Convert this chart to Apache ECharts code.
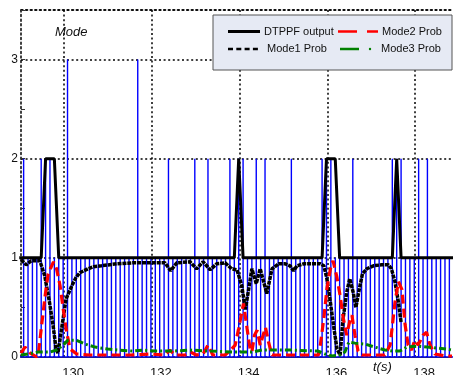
<!DOCTYPE html>
<html><head><meta charset="utf-8">
<script src="https://cdn.jsdelivr.net/npm/echarts@6/dist/echarts.min.js"></script>
<style>html,body{margin:0;padding:0;background:#fff}#c{width:453px;height:375px}</style>
</head><body><div id="c"></div>
<script>
// x ticks and y ticks
const xTickLabels = [130, 132, 134, 136, 138];
const yTickLabels = [0, 1, 2, 3];

// sampled signals (0.1 s sampling)
const sampleStart = 128.98, sampleStep = 0.1;
const trueMode = [
  1,2,1,1,1,2,2,2,1,1,
  1,3,1,1,1,1,1,1,1,1,
  1,1,1,1,1,1,1,3,1,1,
  1,1,1,1,2,1,1,1,1,1,
  2,1,1,2,1,1,1,1,2,1,
  2,2,1,1,2,1,2,1,1,1,
  1,1,2,1,1,1,1,1,1,2,
  2,2,1,1,1,1,2,1,1,1,
  1,1,1,1,1,2,2,2,1,1,
  1,2,1,2,1,1,1,1,1,1
];
const dtppfOutput = [
  1,1,1,1,1,1,2,2,2,1,
  1,1,1,1,1,1,1,1,1,1,
  1,1,1,1,1,1,1,1,1,1,
  1,1,1,1,1,1,1,1,1,1,
  1,1,1,1,1,1,1,1,1,1,
  2,1,1,1,1,1,1,1,1,1,
  1,1,1,1,1,1,1,1,1,1,
  2,2,2,1,1,1,1,1,1,1,
  1,1,1,1,1,1,2,1,1,1,
  1,1,1,1,1,1,1,1,1,1
];

// Mode probabilities
const mode1T = [129.02,129.14,129.25,129.45,129.56,129.67,129.75,129.82,129.86,129.90,129.98,130.05,130.18,130.27,130.36,130.55,130.67,130.85,131.20,131.57,131.96,132.30,132.43,132.57,132.87,133.02,133.17,133.33,133.48,133.67,133.82,133.94,134.05,134.13,134.21,134.28,134.38,134.47,134.62,134.74,134.89,135.04,135.15,135.23,135.31,135.46,135.84,135.92,135.99,136.07,136.14,136.22,136.29,136.36,136.44,136.51,136.59,136.65,136.73,136.80,136.90,137.05,137.24,137.39,137.46,137.54,137.62,137.68];
const mode1P = [0.98,0.93,0.97,0.97,0.82,0.55,0.32,0.08,0.04,0.15,0.39,0.59,0.72,0.80,0.85,0.89,0.91,0.92,0.94,0.95,0.95,0.95,0.87,0.95,0.96,0.89,0.96,0.88,0.94,0.95,0.89,0.88,0.72,0.48,0.69,0.89,0.74,0.89,0.64,0.89,0.94,0.94,0.92,0.87,0.92,0.94,0.94,0.92,0.79,0.55,0.32,0.08,0.02,0.39,0.65,0.79,0.65,0.50,0.69,0.84,0.89,0.92,0.93,0.93,0.89,0.76,0.55,0.35];

const mode2T = [129.02,129.11,129.23,129.38,129.42,129.49,129.57,129.64,129.76,129.83,129.91,129.98,130.06,130.14,130.29,130.59,131.05,131.50,131.96,132.30,132.41,132.53,132.76,132.89,133.01,133.17,133.28,133.39,133.67,133.82,133.90,133.98,134.09,134.17,134.24,134.28,134.34,134.40,134.47,134.59,134.66,134.74,135.15,135.80,135.84,135.92,135.99,136.07,136.13,136.22,136.29,136.36,136.44,136.51,136.56,136.63,136.70,136.79,137.31,137.43,137.49,137.54,137.62,137.65,137.70,137.77,137.84,137.92,137.99,138.07,138.18,138.26,138.34,138.45,138.68,138.84];
const mode2P = [0.04,0.10,0.04,0.00,0.05,0.32,0.62,0.84,0.96,0.89,0.72,0.49,0.25,0.08,0.03,0.02,0.02,0.02,0.03,0.02,0.07,0.02,0.02,0.05,0.02,0.03,0.12,0.02,0.02,0.08,0.12,0.29,0.54,0.29,0.08,0.05,0.22,0.27,0.12,0.30,0.15,0.02,0.02,0.02,0.12,0.39,0.69,0.89,0.97,0.80,0.62,0.40,0.22,0.36,0.42,0.22,0.06,0.02,0.02,0.12,0.35,0.55,0.76,0.77,0.68,0.33,0.12,0.07,0.17,0.12,0.22,0.25,0.12,0.03,0.01,0.01];

const mode3T = [129.02,129.18,129.41,129.68,129.83,129.98,130.09,130.27,130.48,130.71,131.00,131.23,131.57,131.80,132.07,132.48,132.87,133.33,133.83,134.28,134.51,135.15,135.79,135.95,136.10,136.29,136.40,136.49,136.63,136.86,137.08,137.31,137.49,137.65,137.81,138.04,138.27,138.50,138.72,138.84];
const mode3P = [0.02,0.03,0.05,0.05,0.07,0.12,0.17,0.17,0.13,0.10,0.08,0.07,0.06,0.07,0.06,0.06,0.07,0.06,0.05,0.05,0.07,0.07,0.06,0.03,0.01,0.02,0.05,0.15,0.14,0.13,0.10,0.07,0.06,0.06,0.10,0.11,0.10,0.09,0.08,0.07];

// build series data
const stemData = [];
trueMode.forEach((m, k) => {
  const t = sampleStart + k * sampleStep;
  stemData.push([t, 0], [t, m], [t, 0]);
});
const outData = dtppfOutput.map((v, k) => [sampleStart + k * sampleStep, v]);
const zip = (a, b) => a.map((t, i) => [t, b[i]]);

const FONT = '"Liberation Sans", Arial, Helvetica, sans-serif';
const dotted = {color: '#000', type: [2, 2.6], width: 1.5};
const XMIN = 129.02, XMAX = 138.84;

const chart = echarts.init(document.getElementById('c'), null, {renderer: 'canvas'});
chart.setOption({
  animation: false,
  backgroundColor: '#fff',
  grid: {left: 21, right: 1, top: 10, bottom: 18, containLabel: false, outerBoundsMode: 'none'},
  xAxis: [{
    type: 'value', min: XMIN, max: XMAX,
    axisLine: {show: true, onZero: false, lineStyle: {color: '#333', width: 1}},
    axisTick: {show: false, customValues: xTickLabels},
    axisLabel: {customValues: xTickLabels, fontSize: 13, color: '#111', margin: 10, fontFamily: FONT, padding: [0, 0, 0, 18],
      formatter: v => String(Math.round(v))},
    splitLine: {show: true, lineStyle: dotted}
  }, {
    type: 'value', position: 'top', min: XMIN, max: XMAX,
    axisLine: {show: true, onZero: false, lineStyle: dotted},
    axisTick: {show: false}, axisLabel: {show: false}, splitLine: {show: false}
  }],
  yAxis: {
    type: 'value', min: 0, max: 3.5, interval: 1,
    axisLine: {show: true, lineStyle: dotted},
    axisTick: {show: true, inside: true, length: 4, lineStyle: {color: '#333'}},
    minorTick: {show: true, splitNumber: 2, length: 4, lineStyle: {color: '#333'}},
    axisLabel: {fontSize: 12, color: '#111', margin: 3, fontFamily: FONT,
      formatter: v => yTickLabels.includes(v) ? String(v) : ''},
    splitLine: {show: true, lineStyle: dotted}
  },
  series: [
    {type: 'line', name: 'True mode', data: stemData, showSymbol: false, symbol: 'none',
      lineStyle: {color: '#0000ff', width: 1.4}, z: 2},
    {type: 'line', name: 'DTPPF output', data: outData, showSymbol: false, symbol: 'none',
      lineStyle: {color: '#000', width: 3}, z: 3},
    {type: 'line', name: 'Mode1 Prob', data: zip(mode1T, mode1P), showSymbol: false, symbol: 'none',
      lineStyle: {color: '#000', width: 3.5, type: [4, 0.9]}, z: 4},
    {type: 'line', name: 'Mode2 Prob', data: zip(mode2T, mode2P), showSymbol: false, symbol: 'none',
      lineStyle: {color: '#ff0000', width: 3.2, type: [9, 5]}, z: 5},
    {type: 'line', name: 'Mode3 Prob', data: zip(mode3T, mode3P), showSymbol: false, symbol: 'none',
      lineStyle: {color: '#008000', width: 3, type: [7, 3, 2, 3]}, z: 6}
  ],
  graphic: [
    {type: 'text', x: 55, y: 26, z: 100, style: {text: 'Mode', font: 'italic 13px ' + FONT, fill: '#111'}},
    {type: 'text', x: 373, y: 361, z: 100, style: {text: 't(s)', font: 'italic 13px ' + FONT, fill: '#111'}},
    {type: 'rect', z: 100, shape: {x: 213, y: 15, width: 239, height: 55},
      style: {fill: '#e6eaf4', stroke: '#555', lineWidth: 1}},
    {type: 'line', z: 101, shape: {x1: 228, y1: 31.5, x2: 260, y2: 31.5}, style: {stroke: '#000', lineWidth: 3}},
    {type: 'text', z: 101, x: 264, y: 31.5, style: {text: 'DTPPF output', font: '11px ' + FONT, fill: '#111', verticalAlign: 'middle'}},
    {type: 'line', z: 101, shape: {x1: 338, y1: 31.5, x2: 357, y2: 31.5}, style: {stroke: '#ff0000', lineWidth: 2.5}},
    {type: 'line', z: 101, shape: {x1: 367, y1: 31.5, x2: 378, y2: 31.5}, style: {stroke: '#ff0000', lineWidth: 2.5}},
    {type: 'text', z: 101, x: 382, y: 31.5, style: {text: 'Mode2 Prob', font: '11px ' + FONT, fill: '#111', verticalAlign: 'middle'}},
    {type: 'line', z: 101, shape: {x1: 228, y1: 49, x2: 261, y2: 49}, style: {stroke: '#000', lineWidth: 2.5, lineDash: [5, 3.3]}},
    {type: 'text', z: 101, x: 267, y: 49, style: {text: 'Mode1 Prob', font: '11px ' + FONT, fill: '#111', verticalAlign: 'middle'}},
    {type: 'line', z: 101, shape: {x1: 340, y1: 49, x2: 359, y2: 49}, style: {stroke: '#008000', lineWidth: 2.5}},
    {type: 'circle', z: 101, shape: {cx: 370, cy: 49, r: 1.2}, style: {fill: '#008000'}},
    {type: 'text', z: 101, x: 381, y: 49, style: {text: 'Mode3 Prob', font: '11px ' + FONT, fill: '#111', verticalAlign: 'middle'}}
  ]
});
</script>
</body></html>
